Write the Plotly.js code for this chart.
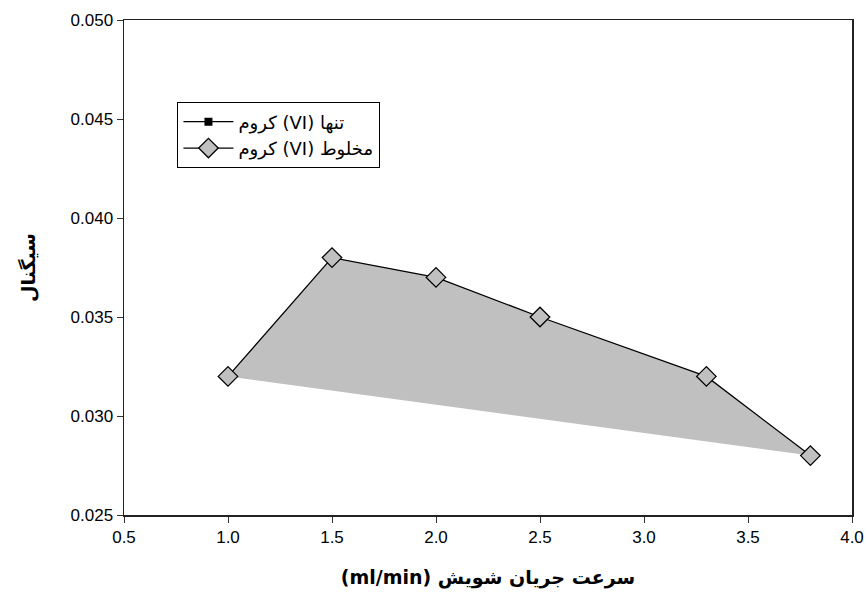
<!DOCTYPE html>
<html>
<head>
<meta charset="utf-8">
<script src="https://cdn.plot.ly/plotly-3.0.1.min.js"></script>
<style>html,body{margin:0;padding:0;background:#fff;}#chart{width:867px;height:595px;}</style>
</head>
<body>
<div id="chart"></div>
<script>
// Elution flow rate (ml/min) and measured signal for Cr(VI) in the mixture
const flowRate = [1.0, 1.5, 2.0, 2.5, 3.3, 3.8];
const signalMixed = [0.032, 0.038, 0.037, 0.035, 0.032, 0.028];
// Cr(VI) alone: shown as a legend entry only
const flowRateAlone = [null];
const signalAlone = [null];

const labelAlone = 'کروم (VI) تنها';
const labelMixed = 'کروم (VI) مخلوط';
// right-to-left embedding so the unit sits at the start of the Persian title
const xTitle = '\u202Bسرعت جریان شویش (ml/min)\u202C';
const yTitle = 'سیگنال';

const traces = [
  {
    // shaded area enclosed by the curve
    x: flowRate, y: signalMixed, type: 'scatter', mode: 'lines',
    fill: 'toself', fillcolor: '#c0c0c0', line: {width: 0},
    showlegend: false, hoverinfo: 'skip'
  },
  {
    x: flowRateAlone, y: signalAlone, type: 'scatter', mode: 'lines+markers',
    name: labelAlone, showlegend: true,
    line: {color: '#000', width: 1.3},
    marker: {symbol: 'square', size: 8, color: '#000'}
  },
  {
    x: flowRate, y: signalMixed, type: 'scatter', mode: 'lines+markers',
    name: labelMixed,
    line: {color: '#000', width: 1.3},
    marker: {symbol: 'diamond', size: 15, color: '#c0c0c0', line: {color: '#000', width: 1.3}}
  }
];

const layout = {
  width: 867, height: 595,
  margin: {l: 124, r: 15, t: 20, b: 80},
  paper_bgcolor: '#fff', plot_bgcolor: '#fff',
  font: {family: 'Liberation Sans, Arial, sans-serif', size: 17, color: '#000'},
  xaxis: {
    range: [0.5, 4.0], dtick: 0.5, tickformat: '.1f',
    tickfont: {size: 17},
    ticks: 'outside', ticklen: 6, tickcolor: '#333',
    showline: true, linecolor: '#222', linewidth: 1.5, mirror: true,
    showgrid: false, zeroline: false,
    title: {text: xTitle, font: {family: 'DejaVu Sans, sans-serif', size: 19, weight: 'bold'}, standoff: 25}
  },
  yaxis: {
    range: [0.025, 0.050], dtick: 0.005, tickformat: '.3f',
    tickfont: {size: 17},
    ticks: 'outside', ticklen: 6, tickcolor: '#333',
    showline: true, linecolor: '#222', linewidth: 1.5, mirror: true,
    showgrid: false, zeroline: false,
    title: {text: yTitle, font: {family: 'DejaVu Sans, sans-serif', size: 19, weight: 'bold'}, standoff: 30}
  },
  legend: {
    x: 0.073, y: 0.834, xanchor: 'left', yanchor: 'top',
    bgcolor: '#fff', bordercolor: '#000', borderwidth: 1.3,
    font: {family: 'DejaVu Sans, sans-serif', size: 18},
    itemwidth: 50, tracegroupgap: 0
  }
};

Plotly.newPlot('chart', traces, layout, {displayModeBar: false, staticPlot: true});
</script>
</body>
</html>
